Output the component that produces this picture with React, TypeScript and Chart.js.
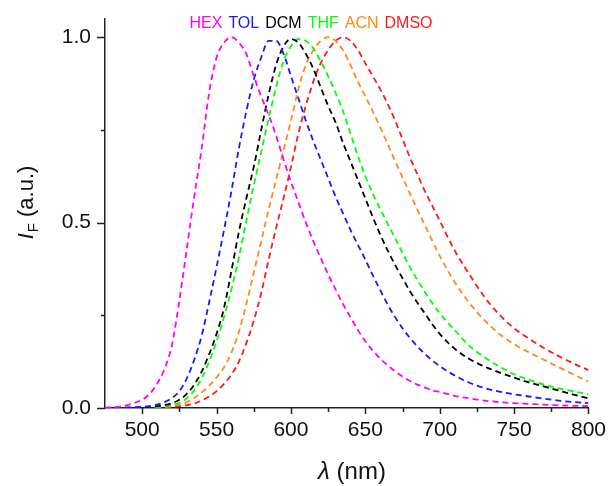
import React, { useEffect, useRef } from 'react';
import { Chart, registerables } from 'chart.js';

Chart.register(...registerables);

// ---------- data ----------
const WAVELENGTHS = [
  475, 480, 485, 490, 495, 500, 505, 510, 515, 520, 525, 530, 535, 540, 545, 550, 555, 560, 565, 570,
  575, 580, 585, 590, 595, 600, 605, 610, 615, 620, 625, 630, 635, 640, 645, 650, 655, 660, 665, 670,
  675, 680, 685, 690, 695, 700, 710, 720, 730, 740, 750, 760, 770, 780, 790, 800,
];

const HEX = [
  0.001, 0.002, 0.004, 0.008, 0.014, 0.022, 0.038, 0.065, 0.105, 0.17, 0.29, 0.43, 0.57, 0.70, 0.85, 0.945, 0.985, 1.0, 0.985, 0.955,
  0.895, 0.84, 0.79, 0.735, 0.67, 0.61, 0.555, 0.50, 0.45, 0.405, 0.36, 0.32, 0.28, 0.245, 0.21, 0.18, 0.155, 0.133, 0.115, 0.099,
  0.085, 0.073, 0.063, 0.055, 0.048, 0.043, 0.033, 0.026, 0.02, 0.016, 0.013, 0.011, 0.009, 0.007, 0.006, 0.005,
];

const TOL = [
  0, 0, 0.001, 0.001, 0.002, 0.003, 0.005, 0.009, 0.016, 0.027, 0.045, 0.08, 0.13, 0.195, 0.285, 0.38, 0.48, 0.585, 0.70, 0.80,
  0.885, 0.945, 0.99, 0.99, 0.955, 0.895, 0.835, 0.775, 0.72, 0.67, 0.62, 0.57, 0.525, 0.48, 0.44, 0.40, 0.358, 0.318, 0.279, 0.245,
  0.215, 0.189, 0.166, 0.146, 0.128, 0.113, 0.088, 0.068, 0.054, 0.044, 0.037, 0.031, 0.025, 0.02, 0.016, 0.013,
];

const DCM = [
  0, 0, 0, 0.001, 0.001, 0.002, 0.003, 0.005, 0.008, 0.013, 0.022, 0.038, 0.063, 0.098, 0.145, 0.2, 0.27, 0.37, 0.475, 0.565,
  0.65, 0.75, 0.845, 0.925, 0.975, 0.995, 0.985, 0.955, 0.915, 0.865, 0.815, 0.77, 0.715, 0.665, 0.615, 0.565, 0.515, 0.468, 0.425, 0.386,
  0.35, 0.315, 0.284, 0.255, 0.226, 0.2, 0.16, 0.132, 0.112, 0.096, 0.082, 0.069, 0.058, 0.047, 0.036, 0.026,
];

const THF = [
  0, 0, 0, 0, 0.001, 0.001, 0.002, 0.003, 0.005, 0.008, 0.014, 0.026, 0.048, 0.08, 0.125, 0.18, 0.245, 0.32, 0.405, 0.505,
  0.60, 0.69, 0.78, 0.865, 0.935, 0.975, 0.995, 0.99, 0.97, 0.935, 0.895, 0.85, 0.80, 0.74, 0.68, 0.625, 0.578, 0.537, 0.497, 0.458,
  0.418, 0.38, 0.345, 0.313, 0.283, 0.256, 0.21, 0.167, 0.137, 0.112, 0.091, 0.076, 0.063, 0.053, 0.045, 0.037,
];

const ACN = [
  0, 0, 0, 0, 0, 0.001, 0.001, 0.002, 0.003, 0.005, 0.009, 0.016, 0.027, 0.042, 0.06, 0.083, 0.11, 0.15, 0.205, 0.28,
  0.365, 0.45, 0.535, 0.615, 0.695, 0.775, 0.86, 0.925, 0.965, 0.99, 1.0, 0.99, 0.965, 0.925, 0.88, 0.84, 0.80, 0.757, 0.712, 0.666,
  0.622, 0.578, 0.535, 0.493, 0.451, 0.41, 0.34, 0.283, 0.237, 0.2, 0.172, 0.15, 0.13, 0.11, 0.09, 0.071,
];

const DMSO = [
  0, 0, 0, 0, 0, 0, 0.001, 0.001, 0.002, 0.003, 0.005, 0.008, 0.012, 0.02, 0.031, 0.045, 0.065, 0.09, 0.125, 0.175,
  0.235, 0.31, 0.40, 0.485, 0.565, 0.65, 0.74, 0.815, 0.88, 0.93, 0.965, 0.99, 1.0, 0.99, 0.965, 0.93, 0.895, 0.86, 0.82, 0.775,
  0.725, 0.675, 0.63, 0.585, 0.545, 0.505, 0.425, 0.36, 0.30, 0.252, 0.215, 0.187, 0.162, 0.14, 0.12, 0.102,
];

const SERIES_NAMES = ['HEX', 'TOL', 'DCM', 'THF', 'ACN', 'DMSO'];
const SERIES_VALUES = [HEX, TOL, DCM, THF, ACN, DMSO];
const SERIES_COLORS = ['#ff00ff', '#1a1aff', '#000000', '#00ff00', '#ff8a1a', '#ff1a1a'];

const X_TICKS = [500, 525, 550, 575, 600, 625, 650, 675, 700, 725, 750, 775, 800];
const X_LABELS = [500, 550, 600, 650, 700, 750, 800];
const Y_TICKS = [0, 0.25, 0.5, 0.75, 1.0];
const Y_LABELS = [0, 0.5, 1.0];

const FONT = '"Liberation Sans", Arial, Helvetica, sans-serif';
const AXIS_COLOR = '#222222';

const decorPlugin = {
  id: 'decor',
  beforeDraw(chart: any) {
    const { ctx, width, height } = chart;
    ctx.save();
    ctx.fillStyle = '#ffffff';
    ctx.fillRect(0, 0, width, height);
    ctx.restore();
  },
  afterDraw(chart: any) {
    const { ctx, chartArea } = chart;
    const xs = chart.scales.x;
    const ys = chart.scales.y;
    ctx.save();
    ctx.strokeStyle = AXIS_COLOR;
    ctx.lineWidth = 1.5;
    // x tick marks
    X_TICKS.forEach((v) => {
      const px = Math.round(xs.getPixelForValue(v)) + 0.5;
      const len = X_LABELS.includes(v) ? 6 : 4;
      ctx.beginPath();
      ctx.moveTo(px, chartArea.bottom);
      ctx.lineTo(px, chartArea.bottom + len);
      ctx.stroke();
    });
    // y tick marks
    Y_TICKS.forEach((v) => {
      const py = Math.round(ys.getPixelForValue(v)) + 0.5;
      const len = Y_LABELS.includes(v) ? 8 : 4;
      ctx.beginPath();
      ctx.moveTo(chartArea.left, py);
      ctx.lineTo(chartArea.left - len, py);
      ctx.stroke();
    });

    // legend-like labels on top
    ctx.font = `16px ${FONT}`;
    ctx.textBaseline = 'alphabetic';
    ctx.textAlign = 'left';
    const gap = 6;
    const widths = SERIES_NAMES.map((n) => ctx.measureText(n).width);
    const total = widths.reduce((a, b) => a + b, 0) + gap * (SERIES_NAMES.length - 1);
    let lx = 311 - total / 2;
    SERIES_NAMES.forEach((n, i) => {
      ctx.fillStyle = SERIES_COLORS[i];
      ctx.fillText(n, lx, 28);
      lx += widths[i] + gap;
    });

    // x title: λ (nm)
    ctx.fillStyle = '#111111';
    ctx.font = `italic 24px ${FONT}`;
    const lam = '\u03bb';
    const wLam = ctx.measureText(lam).width;
    ctx.font = `24px ${FONT}`;
    const rest = ' (nm)';
    const wRest = ctx.measureText(rest).width;
    const tx = 352 - (wLam + wRest) / 2;
    ctx.font = `italic 24px ${FONT}`;
    ctx.fillText(lam, tx, 479);
    ctx.font = `24px ${FONT}`;
    ctx.fillText(rest, tx + wLam, 479);

    // y title: I_F (a.u.)
    ctx.save();
    ctx.translate(33, 203);
    ctx.rotate(-Math.PI / 2);
    ctx.font = `italic 22px ${FONT}`;
    const wI = ctx.measureText('I').width;
    ctx.font = `15px ${FONT}`;
    const wF = ctx.measureText('F').width;
    ctx.font = `22px ${FONT}`;
    const yRest = ' (a.u.)';
    const wY = ctx.measureText(yRest).width;
    const ty = -(wI + wF + wY) / 2;
    ctx.font = `italic 22px ${FONT}`;
    ctx.fillText('I', ty, 0);
    ctx.font = `15px ${FONT}`;
    ctx.fillText('F', ty + wI + 1, 5);
    ctx.font = `22px ${FONT}`;
    ctx.fillText(yRest, ty + wI + 1 + wF, 0);
    ctx.restore();

    ctx.restore();
  },
};

export default function App() {
  const canvasRef = useRef<HTMLCanvasElement | null>(null);

  useEffect(() => {
    if (!canvasRef.current) return;
    const datasets = SERIES_NAMES.map((name, i) => ({
      label: name,
      data: WAVELENGTHS.map((w, j) => ({ x: w, y: SERIES_VALUES[i][j] })),
      borderColor: SERIES_COLORS[i],
      backgroundColor: SERIES_COLORS[i],
      borderWidth: 1.8,
      borderDash: [6, 4],
      pointRadius: 0,
      fill: false,
      cubicInterpolationMode: 'monotone' as const,
    }));

    const chart = new Chart(canvasRef.current, {
      type: 'line',
      data: { datasets },
      plugins: [decorPlugin],
      options: {
        animation: false,
        responsive: false,
        devicePixelRatio: 1,
        layout: { padding: { top: 18, right: 20, left: 0, bottom: 0 } },
        plugins: {
          legend: { display: false },
          tooltip: { enabled: false },
          title: { display: false },
        },
        scales: {
          x: {
            type: 'linear',
            min: 475,
            max: 800,
            afterBuildTicks: (scale: any) => {
              scale.ticks = X_TICKS.map((v) => ({ value: v }));
            },
            afterFit: (scale: any) => {
              scale.height = 78;
            },
            border: { display: true, color: AXIS_COLOR, width: 1.5 },
            grid: { display: true, drawOnChartArea: false, drawTicks: true, tickLength: 6, color: 'rgba(0,0,0,0)' },
            ticks: {
              autoSkip: false,
              maxRotation: 0,
              padding: 4,
              color: '#111111',
              font: { family: FONT, size: 21 },
              callback: (v: any) => (X_LABELS.includes(Number(v)) ? String(v) : ''),
            },
          },
          y: {
            type: 'linear',
            min: 0,
            max: 1.05,
            afterBuildTicks: (scale: any) => {
              scale.ticks = Y_TICKS.map((v) => ({ value: v }));
            },
            afterFit: (scale: any) => {
              scale.width = 105;
            },
            border: { display: true, color: AXIS_COLOR, width: 1.5 },
            grid: { display: true, drawOnChartArea: false, drawTicks: true, tickLength: 8, color: 'rgba(0,0,0,0)' },
            ticks: {
              autoSkip: false,
              padding: 6,
              color: '#111111',
              font: { family: FONT, size: 21 },
              callback: (v: any) => (Y_LABELS.includes(Number(v)) ? Number(v).toFixed(1) : ''),
            },
          },
        },
      },
    });
    return () => chart.destroy();
  }, []);

  return (
    <div style={{ position: 'absolute', left: 0, top: 0, width: 610, height: 486, background: '#ffffff' }}>
      <canvas ref={canvasRef} width={610} height={486} style={{ display: 'block' }} />
    </div>
  );
}
